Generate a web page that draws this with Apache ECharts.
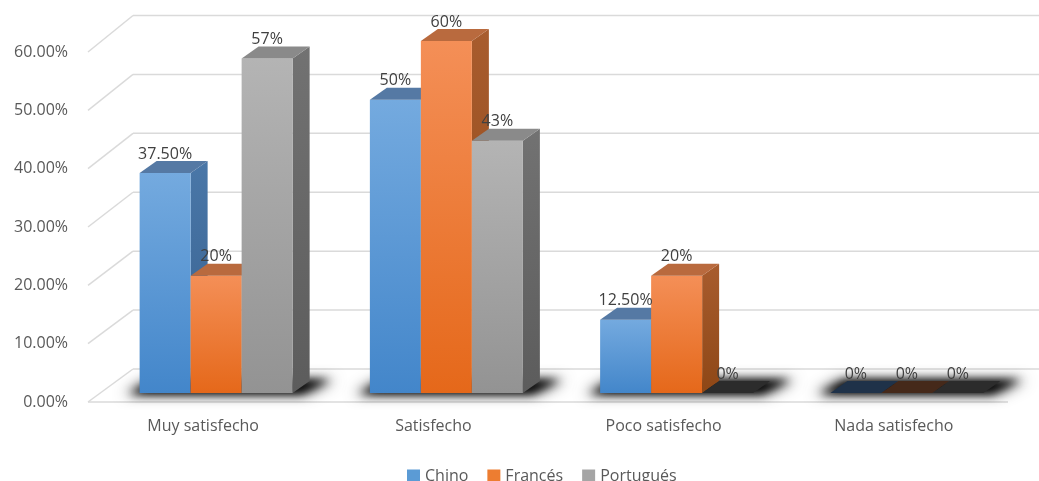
<!DOCTYPE html>
<html>
<head>
<meta charset="utf-8">
<script src="https://cdn.jsdelivr.net/npm/echarts@6/dist/echarts.min.js"></script>
<style>
  html, body { margin: 0; padding: 0; background: #ffffff; }
  #chart { width: 1039px; height: 481px; }
</style>
</head>
<body>
<div id="chart"></div>
<script>
// Satisfacción por idioma
const categories = ['Muy satisfecho', 'Satisfecho', 'Poco satisfecho', 'Nada satisfecho'];
const seriesNames = ['Chino', 'Francés', 'Portugués'];
const chino = [0.375, 0.5, 0.125, 0];
const frances = [0.2, 0.6, 0.2, 0];
const portugues = [0.57, 0.43, 0, 0];
// decimals shown in each value label
const chinoDecimals = [2, 0, 2, 0];
const francesDecimals = [0, 0, 0, 0];
const portuguesDecimals = [0, 0, 0, 0];
const yTicks = [0, 0.1, 0.2, 0.3, 0.4, 0.5, 0.6];

const FONT = '"Open Sans", "Noto Sans", sans-serif';
const BAR_RATIO = 0.2215;      // width of one bar relative to the category band
const BAR_DX = 17, BAR_DY = -12;   // bar depth
const WALL_DX = 45, WALL_DY = -33; // chart box depth
const BACK_SCALE = 1.01;           // back wall is drawn a touch taller than the front edge
const SHADOW_SHIFT = 3000;         // shadow shape is drawn off-canvas, only its blur lands on the floor

const PALETTE = [
  { front: ['#74aadf', '#4386ca'], side: ['#4a77a8', '#36608e'], top: '#5579a4', zero: '#1f3249', legend: '#5b9bd5' },
  { front: ['#f48f57', '#e5681a'], side: ['#a85c2e', '#8e4716'], top: '#b96a3e', zero: '#45291a', legend: '#ed7d31' },
  { front: ['#b4b4b4', '#939393'], side: ['#727272', '#5c5c5c'], top: '#8a8a8a', zero: '#2c2c2c', legend: '#a5a5a5' }
];

function grad(c) {
  return new echarts.graphic.LinearGradient(0, 0, 0, 1, [
    { offset: 0, color: c[0] }, { offset: 1, color: c[1] }
  ]);
}

function fmtPct(v, d) {
  return (v * 100).toFixed(d) + '%';
}

function barRenderer(sIdx, decimals) {
  return function (params, api) {
    const ci = api.value(0), v = api.value(1);
    const base = api.coord([ci, 0]);
    const top = api.coord([ci, v]);
    const band = api.size([1, 0])[0];
    const w = band * BAR_RATIO;
    const x0 = base[0] - 1.5 * w + sIdx * w, x1 = x0 + w;
    const yb = base[1], yt = top[1];
    const pal = PALETTE[sIdx];
    const z = 10 + sIdx * 4;
    const children = [];
    if (v > 0) {
      children.push({
        type: 'polygon', z2: z,
        shape: { points: [[x1, yt], [x1 + BAR_DX, yt + BAR_DY], [x1 + BAR_DX, yb + BAR_DY], [x1, yb]] },
        style: { fill: grad(pal.side) }
      });
      children.push({
        type: 'rect', z2: z + 1,
        shape: { x: x0, y: yt, width: w, height: yb - yt },
        style: { fill: grad(pal.front) }
      });
      children.push({
        type: 'polygon', z2: z + 2,
        shape: { points: [[x0, yt], [x1, yt], [x1 + BAR_DX, yt + BAR_DY], [x0 + BAR_DX, yt + BAR_DY]] },
        style: { fill: pal.top }
      });
    } else {
      children.push({
        type: 'polygon', z2: z + 2,
        shape: { points: [[x0, yb], [x1, yb], [x1 + BAR_DX, yb + BAR_DY], [x0 + BAR_DX, yb + BAR_DY]] },
        style: { fill: pal.zero }
      });
    }
    children.push({
      type: 'text', z2: 40,
      x: (x0 + x1) / 2, y: yt - 11,
      style: {
        text: fmtPct(v, decimals[ci]),
        align: 'center', verticalAlign: 'bottom',
        fill: '#404040', font: '16px ' + FONT
      }
    });
    return { type: 'group', children: children };
  };
}

// soft shadow under each group of bars
function shadowRenderer(params, api) {
  const ci = api.value(0);
  const base = api.coord([ci, 0]);
  const band = api.size([1, 0])[0];
  const w = band * BAR_RATIO;
  const xL = base[0] - 1.5 * w, xR = base[0] + 1.5 * w, yb = base[1];
  function layer(grow, blur, alpha) {
    const pts = [
      [xL - 10 - grow, yb + 1], [xR + 8 + grow, yb + 1],
      [xR + BAR_DX + 20 + grow, yb + BAR_DY - 1], [xL + BAR_DX - 2 - grow, yb + BAR_DY - 1]
    ];
    return {
      type: 'polygon', z2: 1,
      shape: { points: pts.map(function (p) { return [p[0] - SHADOW_SHIFT, p[1]]; }) },
      style: {
        fill: '#000', shadowBlur: blur, shadowColor: 'rgba(0,0,0,' + alpha + ')',
        shadowOffsetX: SHADOW_SHIFT, shadowOffsetY: 0
      }
    };
  }
  return { type: 'group', children: [layer(6, 14, 0.7), layer(0, 8, 0.95)] };
}

// left wall, back wall and floor lines
function wallRenderer(params, api) {
  const v = api.value(1);
  const p0 = api.coord([0, v]);
  const pR = api.coord([1, v]);
  const pFloor = api.coord([0, 0]);
  const backY = pFloor[1] + WALL_DY - (pFloor[1] - p0[1]) * BACK_SCALE;
  const back = [p0[0] + WALL_DX, backY];
  const st = { stroke: '#dadada', lineWidth: 1.5 };
  const children = [
    { type: 'line', shape: { x1: p0[0], y1: p0[1], x2: back[0], y2: back[1] }, style: st },
    { type: 'line', shape: { x1: back[0], y1: back[1], x2: pR[0] + WALL_DX, y2: back[1] }, style: st }
  ];
  if (v === 0) {
    children.push({ type: 'line', shape: { x1: p0[0], y1: p0[1], x2: pR[0], y2: pR[1] }, style: st });
  }
  return { type: 'group', children: children };
}

const values = [chino, frances, portugues];
const decimals = [chinoDecimals, francesDecimals, portuguesDecimals];

const chart = echarts.init(document.getElementById('chart'), null, { renderer: 'canvas' });
chart.setOption({
  animation: false,
  backgroundColor: '#ffffff',
  textStyle: { fontFamily: FONT },
  legend: {
    data: seriesNames,
    icon: 'rect',
    itemWidth: 13, itemHeight: 13, itemGap: 19,
    left: 402, top: 463,
    textStyle: { color: '#595959', fontSize: 16, fontFamily: FONT }
  },
  grid: [
    { left: 101, right: 17, top: 41, bottom: 88 },
    { left: 88, right: 31, top: 52, bottom: 79 }
  ],
  xAxis: [
    {
      type: 'category', gridIndex: 0, data: categories,
      axisLine: { show: false }, axisTick: { show: false }, splitLine: { show: false },
      axisLabel: { color: '#595959', fontSize: 16, fontFamily: FONT, margin: 25, padding: [0, 26, 0, 0] }
    },
    { type: 'value', gridIndex: 1, min: 0, max: 1, show: false }
  ],
  yAxis: [
    { type: 'value', gridIndex: 0, min: 0, max: 0.6, interval: 0.1, show: false },
    {
      type: 'value', gridIndex: 1, min: 0, max: 0.6, interval: 0.1,
      axisLine: { show: false }, axisTick: { show: false }, splitLine: { show: false },
      axisLabel: {
        color: '#595959', fontSize: 16, fontFamily: FONT, margin: 20,
        formatter: function (v) { return (v * 100).toFixed(2) + '%'; }
      }
    }
  ],
  series: [
    {
      type: 'custom', name: 'walls', silent: true, z: 0,
      xAxisIndex: 1, yAxisIndex: 1,
      renderItem: wallRenderer,
      data: yTicks.map(function (t) { return [0, t]; })
    },
    {
      type: 'custom', name: 'sombra', silent: true, z: 1, clip: false,
      xAxisIndex: 0, yAxisIndex: 0,
      renderItem: shadowRenderer,
      data: categories.map(function (c, i) { return [i]; })
    }
  ].concat(seriesNames.map(function (name, s) {
    return {
      type: 'custom', name: name, z: 2,
      xAxisIndex: 0, yAxisIndex: 0,
      itemStyle: { color: PALETTE[s].legend },
      renderItem: barRenderer(s, decimals[s]),
      data: values[s].map(function (v, i) { return [i, v]; })
    };
  }))
});
</script>
</body>
</html>
